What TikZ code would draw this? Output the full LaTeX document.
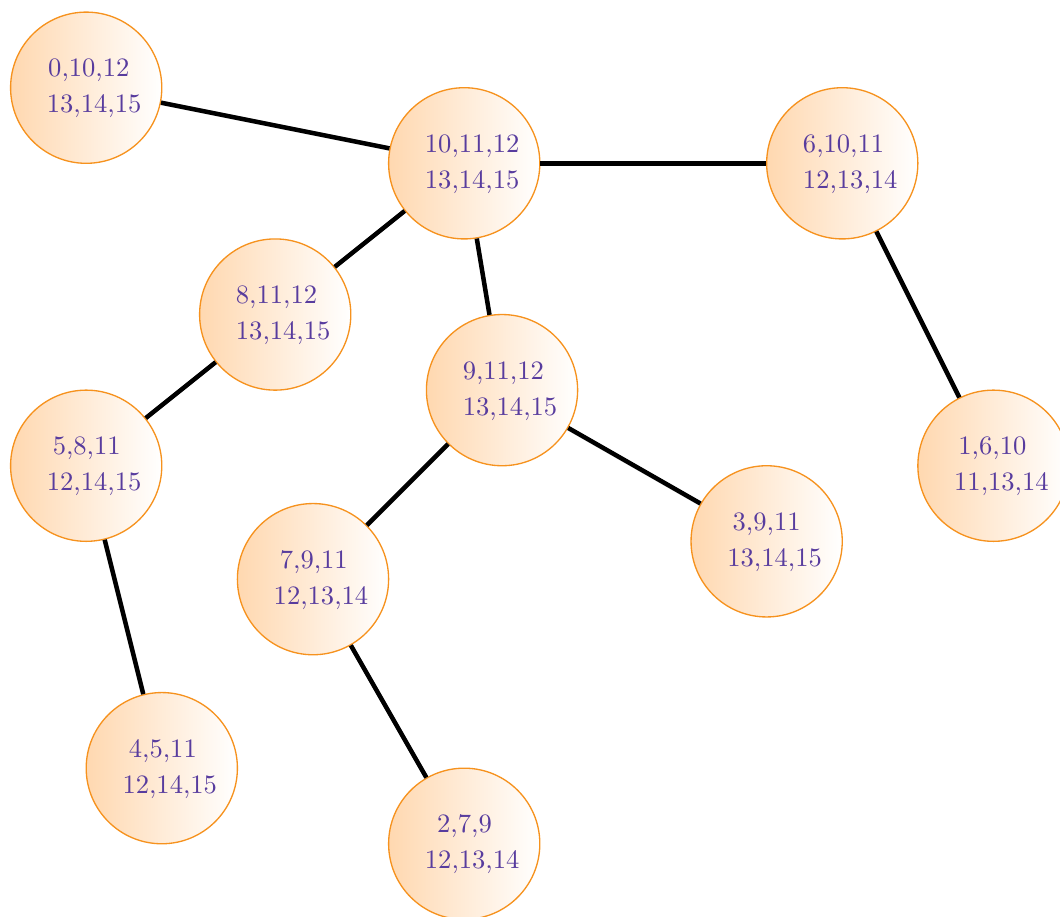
\documentclass[tikz,border=0pt]{standalone}
\definecolor{setink}{RGB}{88,60,158}
\definecolor{ringline}{RGB}{246,146,30}
\definecolor{peach}{RGB}{255,216,176}
% two-line bag label; optional argument indents the first line
\newcommand{\bag}[3][0pt]{{\renewcommand{\arraystretch}{1.13}%
  \begin{tabular}{@{\hspace{6pt}}l@{}}\hspace*{#1}#2\\#3\end{tabular}}}
\tikzset{
  bagnode/.style={circle, draw=ringline, line width=0.5pt, minimum size=2cm, inner sep=0pt,
    left color=peach, right color=white, text=setink},
  link/.style={line width=1.7pt, black}
}
\begin{document}
\begin{tikzpicture}
\useasboundingbox (0,0) rectangle (14.02,-12.12);
\coordinate (pa) at (1.14,-1.16);
\coordinate (pb) at (6.14,-2.16);
\coordinate (pc) at (11.14,-2.16);
\coordinate (pd) at (3.64,-4.16);
\coordinate (pe) at (6.64,-5.16);
\coordinate (pf) at (1.14,-6.16);
\coordinate (pg) at (13.14,-6.16);
\coordinate (ph) at (10.14,-7.16);
\coordinate (pi) at (4.14,-7.66);
\coordinate (pj) at (2.14,-10.16);
\coordinate (pk) at (6.14,-11.16);
\node[bagnode] (a) at (pa) {\bag[0.5pt]{0,10,12}{13,14,15}};
\node[bagnode] (b) at (pb) {\bag{10,11,12}{13,14,15}};
\node[bagnode] (c) at (pc) {\bag{6,10,11}{12,13,14}};
\node[bagnode] (d) at (pd) {\bag{8,11,12}{13,14,15}};
\node[bagnode] (e) at (pe) {\bag{9,11,12}{13,14,15}};
\node[bagnode] (f) at (pf) {\bag[2.2pt]{5,8,11}{12,14,15}};
\node[bagnode] (g) at (pg) {\bag[1.6pt]{1,6,10}{11,13,14}};
\node[bagnode] (h) at (ph) {\bag[2.0pt]{3,9,11}{13,14,15}};
\node[bagnode] (i) at (pi) {\bag[2.3pt]{7,9,11}{12,13,14}};
\node[bagnode] (j) at (pj) {\bag[2.4pt]{4,5,11}{12,14,15}};
\node[bagnode] (k) at (pk) {\bag[4.6pt]{2,7,9}{12,13,14}};
% tree edges between the bags
\draw[link] (a) -- (b);
\draw[link] (b) -- (c);
\draw[link] (b) -- (d);
\draw[link] (b) -- (e);
\draw[link] (c) -- (g);
\draw[link] (d) -- (f);
\draw[link] (f) -- (j);
\draw[link] (e) -- (i);
\draw[link] (e) -- (h);
\draw[link] (i) -- (k);
\end{tikzpicture}
\end{document}
